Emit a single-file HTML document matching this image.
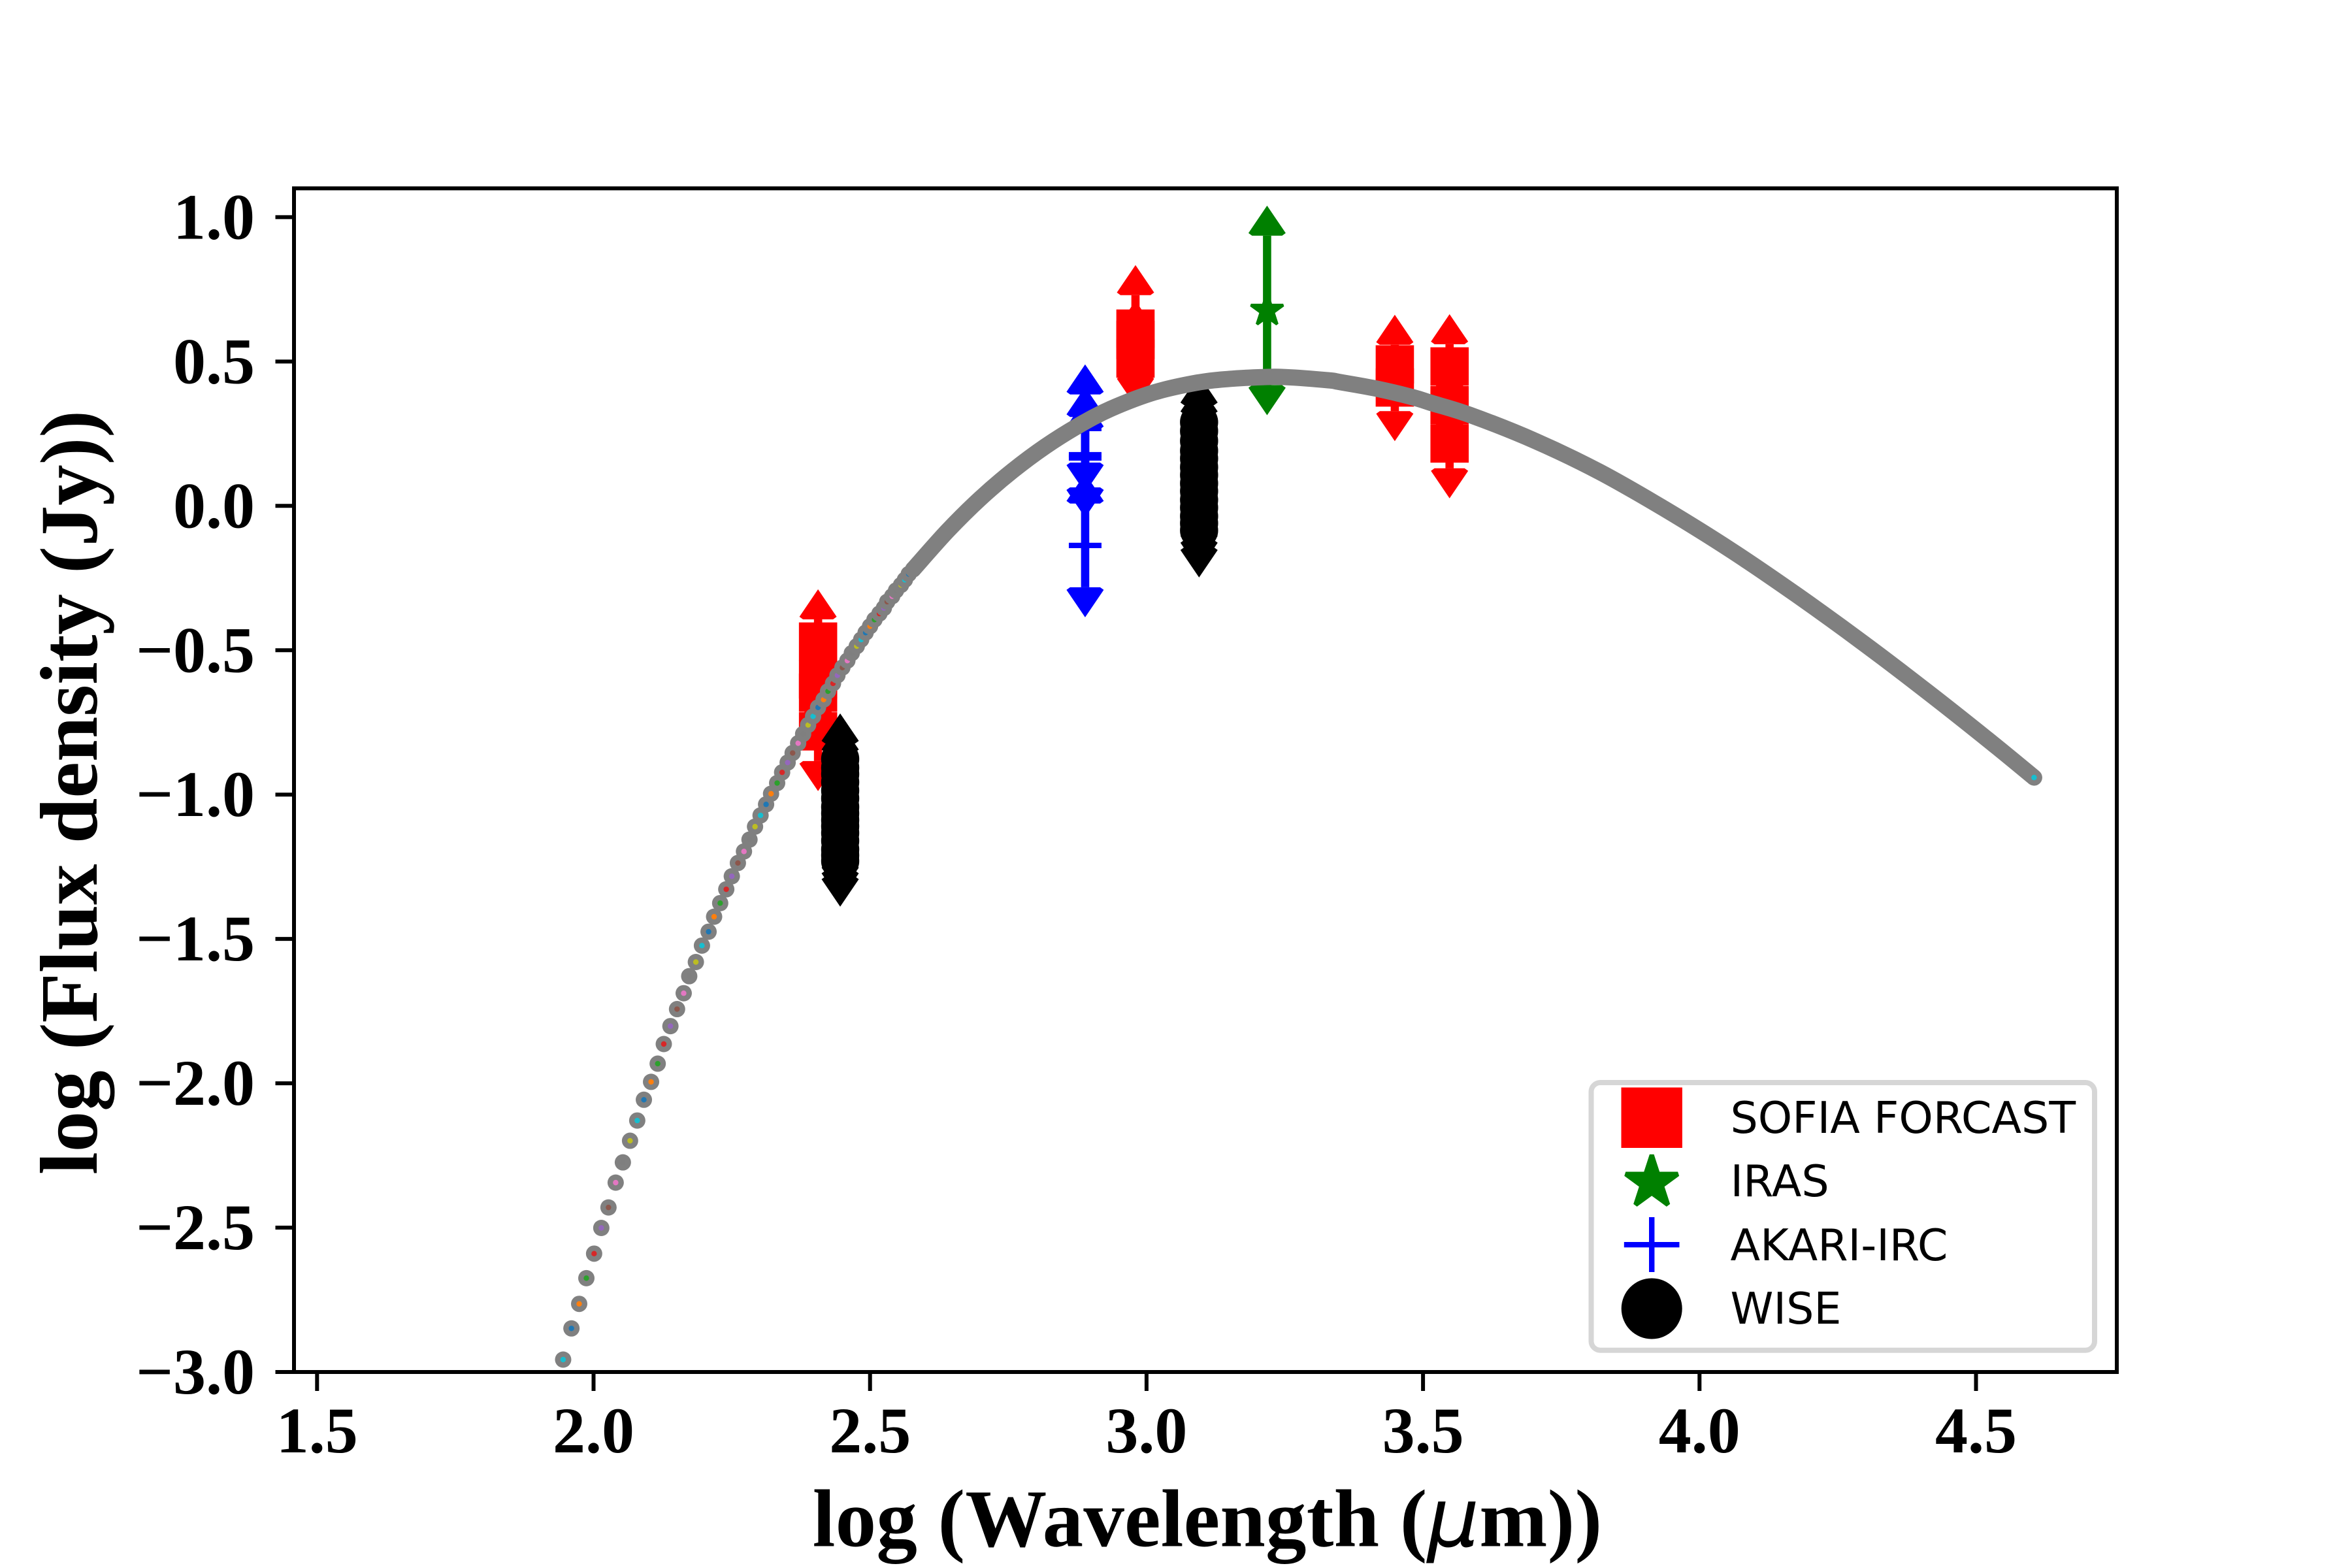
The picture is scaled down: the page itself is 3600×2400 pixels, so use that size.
<!DOCTYPE html>
<html lang="en">
<head>
<meta charset="utf-8">
<title>Spectral energy distribution</title>
<style>
html,body{margin:0;padding:0;background:#fff;}
svg{display:block;}
.tick-text{font-family:"Liberation Serif",serif;font-weight:bold;font-size:100px;fill:#000;}
.axis-text{font-family:"Liberation Serif",serif;font-weight:bold;font-size:125px;fill:#000;}
.legend-text{font-family:"DejaVu Sans",sans-serif;font-size:66.67px;fill:#000;}
</style>
</head>
<body>
<svg id="chart" xmlns="http://www.w3.org/2000/svg" width="3600" height="2400" viewBox="0 0 3600 2400">
  <rect x="0" y="0" width="3600" height="2400" fill="#ffffff"/>
  <g id="ticks"></g>
  <g id="marks"></g>
  <rect x="450" y="288.3" width="2790" height="1811.7" fill="none" stroke="#000" stroke-width="6"/>
  <text class="axis-text" x="1848" y="2366.7" text-anchor="middle" letter-spacing="0.2">log (Wavelength (<tspan font-family="DejaVu Sans" font-style="italic" font-weight="normal">μ</tspan>m))</text>
  <text class="axis-text" x="148" y="1213" text-anchor="middle" transform="rotate(-90 148 1213)">log (Flux density (Jy))</text>
  <g>
    <rect x="2435.5" y="1657" width="770.5" height="409.7" rx="14" ry="14" fill="#fff" stroke="#d6d6d6" stroke-width="8"/>
    <rect x="2481.5" y="1664.5" width="93.4" height="92.5" fill="#ff0000"/>
    <polygon id="legend-star" fill="#008000" stroke="#008000" stroke-width="7" stroke-linejoin="bevel"/>
    <rect x="2485.8" y="1901" width="84.7" height="8.3" fill="#0000ff"/>
    <rect x="2524" y="1863" width="8.4" height="84" fill="#0000ff"/>
    <circle cx="2528.2" cy="2003" r="46.5" fill="#000"/>
    <text class="legend-text" x="2648.5" y="1734">SOFIA FORCAST</text>
    <text class="legend-text" x="2648.5" y="1831">IRAS</text>
    <text class="legend-text" x="2648.5" y="1929">AKARI-IRC</text>
    <text class="legend-text" x="2648.5" y="2026">WISE</text>
  </g>
</svg>
<script>
// ---- chart data (log wavelength in um, log flux density in Jy) ----
var xTickValues = [1.5, 2.0, 2.5, 3.0, 3.5, 4.0, 4.5];
var xTickLabels = ["1.5", "2.0", "2.5", "3.0", "3.5", "4.0", "4.5"];
var yTickValues = [1.0, 0.5, 0.0, -0.5, -1.0, -1.5, -2.0, -2.5, -3.0];
var yTickLabels = ["1.0", "0.5", "0.0", "\u22120.5", "\u22121.0", "\u22121.5", "\u22122.0", "\u22122.5", "\u22123.0"];

var sofiaWave = [2.406, 2.406, 2.406, 2.406, 2.980, 2.980, 2.980, 3.449, 3.449, 3.548, 3.548, 3.548];
var sofiaFlux = [-0.470, -0.601, -0.647, -0.781, 0.614, 0.575, 0.510, 0.490, 0.410, 0.483, 0.349, 0.216];
var sofiaErrUp = [0.181, 0.113, 0.113, 0.136, 0.220, 0.136, 0.113, 0.172, 0.113, 0.181, 0.113, 0.136];
var sofiaErrDown = [0.136, 0.113, 0.113, 0.207, 0.113, 0.113, 0.165, 0.113, 0.186, 0.136, 0.113, 0.190];

var irasWave = [3.218];
var irasFlux = [0.677];
var irasErrUp = [0.363];
var irasErrDown = [0.363];

var akariWave = [2.889, 2.889, 2.889, 2.889];
var akariFlux = [0.268, 0.177, 0.166, -0.137];
var akariErrUp = [0.222, 0.235, 0.204, 0.249];
var akariErrDown = [0.222, 0.217, 0.206, 0.249];

var wiseWave = [2.446, 2.446, 2.446, 2.446, 2.446, 2.446, 2.446, 2.446, 2.446, 2.446, 2.446, 2.446, 2.446, 2.446, 2.446, 3.095, 3.095, 3.095, 3.095, 3.095, 3.095, 3.095, 3.095, 3.095, 3.095, 3.095, 3.095, 3.095, 3.095];
var wiseFlux = [-0.877, -0.907, -0.929, -0.957, -0.986, -1.013, -1.043, -1.065, -1.088, -1.110, -1.133, -1.160, -1.190, -1.210, -1.230, 0.290, 0.259, 0.225, 0.191, 0.164, 0.134, 0.107, 0.078, 0.051, 0.021, -0.006, -0.036, -0.060, -0.085];
var wiseErr = [0.158, 0.158, 0.158, 0.158, 0.158, 0.158, 0.158, 0.158, 0.158, 0.158, 0.158, 0.158, 0.158, 0.158, 0.158, 0.163, 0.163, 0.163, 0.163, 0.163, 0.163, 0.163, 0.163, 0.163, 0.163, 0.163, 0.163, 0.163, 0.163];

var modelDotWave = [1.945, 1.960, 1.974, 1.987, 2.001, 2.014, 2.027, 2.040, 2.053, 2.066, 2.079, 2.091, 2.104, 2.116, 2.127, 2.139, 2.151, 2.163, 2.173, 2.185, 2.196, 2.208, 2.218, 2.229, 2.240, 2.250, 2.261, 2.272, 2.282, 2.292, 2.302, 2.312, 2.321, 2.332, 2.341, 2.351, 2.360, 2.370, 2.379, 2.388, 2.397, 2.406, 2.416, 2.424, 2.433, 2.441, 2.450, 2.459, 2.467, 2.476, 2.484, 2.492, 2.500, 2.508, 2.517, 2.525, 2.531, 2.540, 2.547, 2.556, 2.563, 2.570, 2.578];
var modelDotFlux = [-2.957, -2.849, -2.764, -2.675, -2.590, -2.501, -2.430, -2.344, -2.274, -2.199, -2.129, -2.057, -1.995, -1.932, -1.864, -1.802, -1.743, -1.688, -1.629, -1.580, -1.523, -1.475, -1.423, -1.376, -1.328, -1.283, -1.237, -1.197, -1.156, -1.111, -1.072, -1.034, -0.997, -0.960, -0.923, -0.889, -0.856, -0.822, -0.790, -0.759, -0.729, -0.698, -0.671, -0.642, -0.615, -0.587, -0.560, -0.536, -0.510, -0.486, -0.463, -0.439, -0.417, -0.394, -0.373, -0.354, -0.332, -0.313, -0.293, -0.274, -0.256, -0.236, -0.220];
var modelDotColors = ["#17becf", "#1f77b4", "#ff7f0e", "#2ca02c", "#d62728", "#9467bd", "#8c564b", "#e377c2", "#7f7f7f", "#bcbd22"];

var modelBandWave = [2.578, 2.640, 2.699, 2.758, 2.817, 2.876, 2.935, 3.014, 3.092, 3.150, 3.210, 3.251, 3.329, 3.349, 3.416, 3.482, 3.514, 3.585, 3.703, 3.821, 3.939, 4.058, 4.176, 4.294, 4.412, 4.530, 4.605];
var modelBandFlux = [-0.220, -0.087, 0.025, 0.122, 0.206, 0.277, 0.336, 0.393, 0.427, 0.440, 0.446, 0.446, 0.435, 0.429, 0.406, 0.376, 0.357, 0.315, 0.225, 0.116, -0.013, -0.155, -0.309, -0.472, -0.644, -0.823, -0.941];

// ---- axis functions ----
function xScale(v) { return 485.3 + (v - 1.5) * 846.4; }
function yScale(v) { return 2100 - (v + 3) * 441.9; }

var SVG_NS = "http://www.w3.org/2000/svg";
var marks = document.getElementById("marks");
var ticksGroup = document.getElementById("ticks");

function make(tag, parent, props) {
  var el = document.createElementNS(SVG_NS, tag);
  for (var k in props) { el.setAttribute(k, props[k]); }
  parent.appendChild(el);
  return el;
}

function starPoints(cx, cy, r) {
  var pts = [];
  for (var i = 0; i < 10; i++) {
    var rad = (i % 2 === 0) ? r : r * 0.381966;
    var a = (-90 + 36 * i) * Math.PI / 180;
    pts.push((cx + rad * Math.cos(a)).toFixed(1) + "," + (cy + rad * Math.sin(a)).toFixed(1));
  }
  return pts.join(" ");
}

function arrowHead(parent, x, tipY, dir, color) {
  var s = dir;
  var pts = [
    [x, tipY], [x - 28.5, tipY + s * 42], [x - 23, tipY + s * 46],
    [x + 23, tipY + s * 46], [x + 28.5, tipY + s * 42]
  ].map(function (p) { return p[0].toFixed(1) + "," + p[1].toFixed(1); }).join(" ");
  var el = make("polygon", parent, { points: pts, fill: color });
  
  
}

function errorBar(parent, wave, flux, up, down, color) {
  var x = xScale(wave);
  var topTip = yScale(flux + up);
  var botTip = yScale(flux - down);
  var stem = make("rect", parent, { x: x - 6.3, y: topTip + 46, width: 12.6, height: Math.max(0, botTip - topTip - 92), fill: color });
  
  
  arrowHead(parent, x, topTip, 1, color);
  arrowHead(parent, x, botTip, -1, color);
}

function smoothPath(px, py) {
  var d = "M" + px[0].toFixed(1) + " " + py[0].toFixed(1);
  for (var i = 0; i < px.length - 1; i++) {
    var a = Math.max(i - 1, 0), b = Math.min(i + 2, px.length - 1);
    var c1x = px[i] + (px[i + 1] - px[a]) / 6, c1y = py[i] + (py[i + 1] - py[a]) / 6;
    var c2x = px[i + 1] - (px[b] - px[i]) / 6, c2y = py[i + 1] - (py[b] - py[i]) / 6;
    d += "C" + c1x.toFixed(1) + " " + c1y.toFixed(1) + " " + c2x.toFixed(1) + " " + c2y.toFixed(1) + " " + px[i + 1].toFixed(1) + " " + py[i + 1].toFixed(1);
  }
  return d;
}

// ---- ticks ----
xTickValues.forEach(function (v, i) {
  var tick = make("line", ticksGroup, { x1: xScale(v), x2: xScale(v), y1: 2100, y2: 2129, stroke: "#000", "stroke-width": 6 });
  
  
  var label = make("text", ticksGroup, { x: xScale(v), y: 2223, "text-anchor": "middle", "class": "tick-text" });
  
  
  label.textContent = xTickLabels[i];
});
yTickValues.forEach(function (v, i) {
  var tick = make("line", ticksGroup, { x1: 421.5, x2: 450, y1: yScale(v), y2: yScale(v), stroke: "#000", "stroke-width": 6 });
  
  
  var label = make("text", ticksGroup, { x: 390, y: yScale(v) + 33, "text-anchor": "end", "class": "tick-text" });
  
  
  label.textContent = yTickLabels[i];
});

// ---- SOFIA FORCAST ----
var sofiaGroup = make("g", marks, {});


sofiaWave.forEach(function (w, i) {
  errorBar(sofiaGroup, w, sofiaFlux[i], sofiaErrUp[i], sofiaErrDown[i], "#ff0000");
});
sofiaWave.forEach(function (w, i) {
  var sq = make("rect", sofiaGroup, { x: xScale(w) - 29.3, y: yScale(sofiaFlux[i]) - 29.3, width: 58.6, height: 58.6, fill: "#ff0000" });
  
  
});

// ---- IRAS ----
var irasGroup = make("g", marks, {});


irasWave.forEach(function (w, i) {
  errorBar(irasGroup, w, irasFlux[i], irasErrUp[i], irasErrDown[i], "#008000");
  var st = make("polygon", irasGroup, { points: starPoints(xScale(w), yScale(irasFlux[i]), 26), fill: "#008000", stroke: "#008000", "stroke-width": 4.5, "stroke-linejoin": "bevel" });
  
  
});

// ---- AKARI-IRC ----
var akariGroup = make("g", marks, {});


akariWave.forEach(function (w, i) {
  errorBar(akariGroup, w, akariFlux[i], akariErrUp[i], akariErrDown[i], "#0000ff");
  var cx = xScale(w), cy = yScale(akariFlux[i]);
  var plus = make("path", akariGroup, { d: "M" + (cx - 25) + " " + cy + "H" + (cx + 25) + "M" + cx + " " + (cy - 25) + "V" + (cy + 25), stroke: "#0000ff", "stroke-width": 8.3, fill: "none" });
  
  
});

// ---- WISE ----
var wiseGroup = make("g", marks, {});


wiseWave.forEach(function (w, i) {
  errorBar(wiseGroup, w, wiseFlux[i], wiseErr[i], wiseErr[i], "#000000");
  var c = make("circle", wiseGroup, { cx: xScale(w), cy: yScale(wiseFlux[i]), r: 29.2, fill: "#000000" });
  
  
});

// ---- model curve ----
var modelGroup = make("g", marks, {});


modelDotWave.forEach(function (w, i) {
  var cx = xScale(w), cy = yScale(modelDotFlux[i]);
  var outer = make("circle", modelGroup, { cx: cx, cy: cy, r: 12.5, fill: "#808080" });
  
  
  var inner = make("circle", modelGroup, { cx: cx, cy: cy, r: 4.2, fill: modelDotColors[i % modelDotColors.length] });
  
  
});
var band = make("path", modelGroup, { d: smoothPath(modelBandWave.map(xScale), modelBandFlux.map(yScale)), fill: "none", stroke: "#808080", "stroke-width": 25, "stroke-linecap": "round", "stroke-linejoin": "round" });


var lastIdx = modelBandWave.length - 1;
var endDot = make("circle", modelGroup, { cx: xScale(modelBandWave[lastIdx]), cy: yScale(modelBandFlux[lastIdx]), r: 4.2, fill: "#17becf" });



document.getElementById("legend-star").setAttribute("points", starPoints(2528.2, 1810, 42));
</script>
</body>
</html>
